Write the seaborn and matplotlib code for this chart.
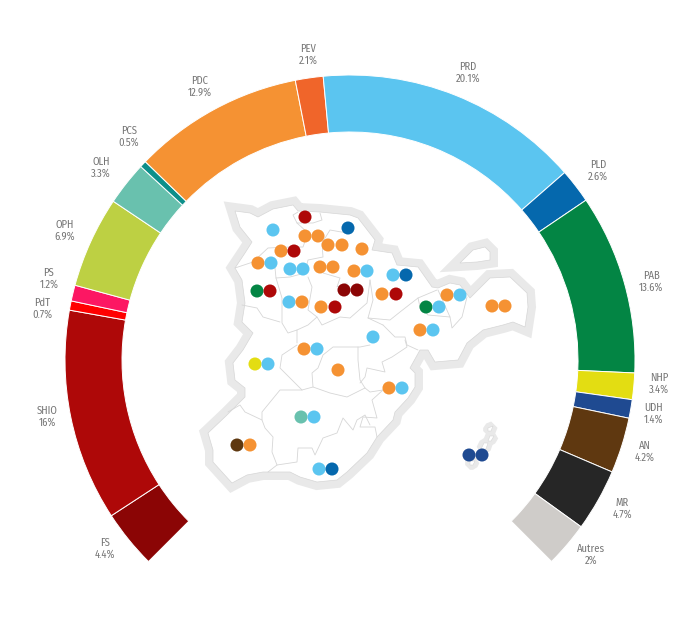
import numpy as np
import pandas as pd
import matplotlib
matplotlib.use('Agg')
import matplotlib.pyplot as plt
import seaborn as sns

# ring, clockwise from the lower left end
parties = ['FS', 'SHIO', 'PdT', 'PS', 'OPH', 'OLH', 'PCS', 'PDC', 'PEV', 'PRD', 'PLD', 'PAB', 'NHP', 'UDH', 'AN', 'MR', 'Autres']
# arc sizes as drawn in the picture, NHP and Autres do not follow their printed labels
shares = [4.4, 16, 0.7, 1.2, 6.9, 3.3, 0.5, 12.9, 2.1, 20.1, 2.6, 13.6, 2, 1.4, 4.2, 4.7, 3.4]
share_text = ['4.4%', '16%', '0.7%', '1.2%', '6.9%', '3.3%', '0.5%', '12.9%', '2.1%', '20.1%', '2.6%', '13.6%', '3.4%', '1.4%', '4.2%', '4.7%', '2%']
party_colors = ['#8b0505', '#ae0808', '#ff0000', '#fc1763', '#bdd043', '#69c1ae', '#0d8f8a', '#f59233', '#f0652a',
                '#5bc5f0', '#0568ad', '#038544', '#e3dd12', '#1f4a91', '#5f3810', '#262626', '#cfccc9']
label_x = [105, 47, 42, 49, 65, 101, 129, 200, 308, 468, 598, 651, 659, 654, 645, 622, 591]
label_y = [549, 417, 309, 279, 231, 168, 137, 87, 55, 73, 171, 282, 384, 414, 452, 509, 555]

# seats on the map, pixel positions
dot_party = ['SHIO', 'PRD', 'PLD', 'PDC', 'PDC', 'PDC', 'PDC', 'PDC', 'PDC', 'SHIO', 'PDC', 'PRD', 'PRD', 'PRD',
             'PDC', 'PDC', 'PDC', 'PRD', 'PRD', 'PLD', 'PAB', 'SHIO', 'FS', 'FS', 'PDC', 'SHIO', 'PDC', 'PRD',
             'PRD', 'PDC', 'PDC', 'SHIO', 'PAB', 'PRD', 'PDC', 'PDC', 'PDC', 'PRD', 'PRD', 'PDC', 'PRD', 'NHP',
             'PRD', 'PDC', 'PDC', 'PRD', 'OLH', 'PRD', 'AN', 'PDC', 'PRD', 'PLD', 'UDH', 'UDH']
dot_x = [305, 273, 348, 305, 318, 328, 342, 362, 281, 294, 258, 271, 290, 303,
         320, 333, 354, 367, 393, 406, 257, 270, 344, 357, 382, 396, 447, 460,
         289, 302, 321, 335, 426, 439, 492, 505, 420, 433, 373, 304, 317, 255,
         268, 338, 389, 402, 301, 314, 237, 250, 319, 332, 469, 482]
dot_y = [217, 230, 228, 236, 236, 245, 245, 249, 251, 251, 263, 263, 269, 269,
         267, 267, 271, 271, 275, 275, 291, 291, 290, 290, 294, 294, 295, 295,
         302, 302, 307, 307, 307, 307, 306, 306, 330, 330, 337, 349, 349, 364,
         364, 370, 388, 388, 417, 417, 445, 445, 469, 469, 455, 455]

# map outline and borders, pixels
main_x = [235, 250, 258, 273, 293, 298, 320, 350, 358, 375, 372, 392, 397, 418, 432, 438, 450, 460, 470, 490, 510, 527, 528, 525,
          513, 503, 483, 467, 458, 435, 428, 420, 410, 415, 415, 408, 395, 393, 377, 367, 347, 337, 317, 300, 290, 263, 247, 232,
          222, 213, 213, 208, 227, 245, 245, 235, 233, 243, 253, 242, 245, 242, 235, 245, 252, 240]
main_y = [211, 213, 217, 209, 205, 211, 212, 215, 218, 240, 250, 253, 265, 267, 287, 288, 283, 285, 298, 278, 277, 293, 307, 327,
          322, 325, 330, 343, 360, 362, 350, 350, 368, 373, 387, 398, 412, 420, 437, 453, 472, 480, 482, 477, 472, 472, 475, 483,
          472, 462, 450, 433, 415, 397, 388, 380, 363, 350, 333, 322, 303, 280, 268, 253, 242, 227]
island_x = [460, 473, 485, 490, 490, 477]
island_y = [263, 250, 247, 252, 260, 262]
islets_x = [[488, 493, 491, 488], [490, 494, 491, 488], [484, 488, 486, 481], [470, 475, 473, 470]]
islets_y = [[428, 426, 431, 431], [436, 436, 441, 441], [443, 443, 449, 449], [461, 461, 465, 465]]
borders = [
    [(235, 268), (253, 262), (268, 248), (290, 247), (303, 247), (308, 233), (297, 223), (293, 215), (298, 212)],
    [(297, 223), (313, 223), (322, 220), (320, 213)],
    [(275, 268), (276, 278), (290, 277), (305, 273), (308, 260), (323, 257), (322, 243), (330, 230), (347, 233)],
    [(276, 278), (282, 298), (282, 323), (288, 333), (297, 330), (297, 343)],
    [(308, 277), (312, 287), (308, 310), (317, 317), (308, 325), (297, 330)],
    [(317, 317), (322, 325), (340, 317), (350, 318), (367, 303), (370, 280)],
    [(323, 273), (340, 278), (337, 287), (347, 283)],
    [(242, 305), (257, 308), (263, 317), (280, 322)],
    [(370, 280), (373, 300), (368, 318), (390, 320), (400, 312), (418, 298), (437, 290)],
    [(418, 298), (420, 307), (428, 315), (450, 317), (438, 290)],
    [(450, 317), (452, 328), (462, 317), (467, 297)],
    [(383, 325), (395, 337), (405, 337), (407, 345), (418, 350)],
    [(368, 318), (383, 325)],
    [(228, 412), (240, 405), (245, 412), (262, 420), (265, 428), (273, 437), (272, 452), (277, 465), (268, 472)],
    [(262, 420), (262, 412), (280, 390), (302, 390), (313, 387), (330, 393), (347, 397), (365, 388), (370, 392), (383, 390)],
    [(302, 390), (280, 368), (282, 355), (297, 345)],
    [(313, 387), (312, 373), (318, 368), (323, 355), (333, 347), (360, 347), (370, 345)],
    [(358, 347), (358, 360), (360, 380), (365, 388)],
    [(277, 465), (297, 462), (298, 448), (312, 448), (315, 455), (323, 438), (337, 433), (343, 418), (353, 430), (357, 420), (365, 415), (370, 425)],
    [(405, 340), (407, 347), (392, 357), (382, 362), (385, 372), (367, 368), (365, 377), (360, 383)],
    [(383, 390), (372, 400), (377, 418), (363, 417), (360, 427), (375, 427), (377, 437)],
]

map_grey = '#e9e9e9'
line_grey = '#d6d6d6'
text_grey = '#767676'
cx, cy = 350, 360
radius = 285
ring_width = 57

sns.set_theme(style='white')
plt.rcParams['font.family'] = ['Fira Sans Condensed', 'Liberation Sans']

fig = plt.figure(figsize=(7, 6.39), dpi=100)
ax = fig.add_axes([0, 0, 1, 1])

# 270 degree ring, the y axis is flipped below so angles run the other way
fractions = [0.75 * s / 100 for s in shares]
ax.pie(fractions, normalize=False, colors=party_colors, startangle=135, counterclock=True,
       center=(cx, cy), radius=radius,
       wedgeprops={'width': ring_width, 'edgecolor': 'white', 'linewidth': 0.7})

for name, txt, x, y in zip(parties, share_text, label_x, label_y):
    ax.text(x, y, name + '\n' + txt, ha='center', va='center', fontsize=7.6, fontweight=400,
            color=text_grey, linespacing=1.15)

for xs, ys in [(main_x, main_y), (island_x, island_y)]:
    ax.fill(xs, ys, facecolor='white', edgecolor=map_grey, linewidth=11.5, joinstyle='miter', zorder=3)
for xs, ys in zip(islets_x, islets_y):
    ax.fill(xs, ys, facecolor='white', edgecolor=map_grey, linewidth=7, joinstyle='bevel', zorder=3)
ax.fill(main_x, main_y, facecolor='white', edgecolor=line_grey, linewidth=0.5, zorder=4)
ax.fill(island_x, island_y, facecolor='white', edgecolor=line_grey, linewidth=0.5, zorder=4)
for xs, ys in zip(islets_x, islets_y):
    ax.fill(xs, ys, facecolor='white', edgecolor=line_grey, linewidth=0.4, zorder=4)
for line in borders:
    pts = np.array(line)
    ax.plot(pts[:, 0], pts[:, 1], color=line_grey, linewidth=0.6, zorder=5)

dots = pd.DataFrame({'x': dot_x, 'y': dot_y, 'party': dot_party})
sns.scatterplot(data=dots, x='x', y='y', hue='party', palette=dict(zip(parties, party_colors)),
                s=88, linewidth=0, legend=False, zorder=6, ax=ax)

ax.set_xlim(0, 700)
ax.set_ylim(639, 0)
ax.axis('off')
fig.savefig('out.png', dpi=100, facecolor='white')
